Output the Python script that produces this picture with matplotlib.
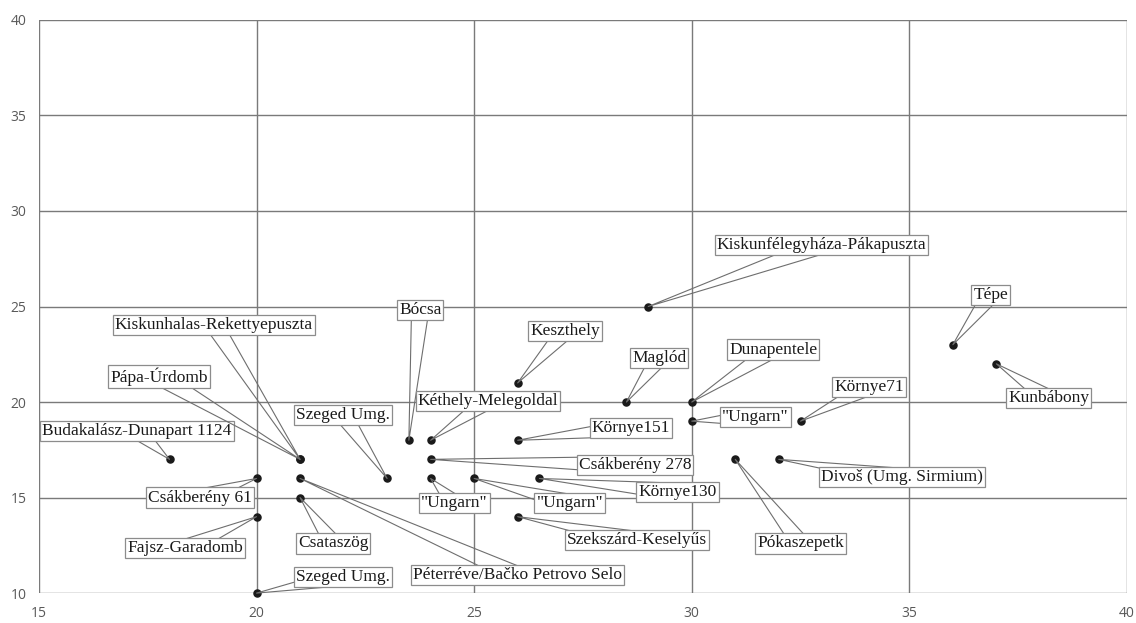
import matplotlib.pyplot as plt

# site coordinates
names = ['Budakalász-Dunapart 1124', 'Csákberény 61', 'Fajsz-Garadomb', 'Szeged Umg.',
         'Kiskunhalas-Rekettyepuszta', 'Pápa-Úrdomb', 'Szeged Umg.', 'Csataszög',
         'Péterréve/Bačko Petrovo Selo', 'Bócsa', 'Kéthely-Melegoldal', 'Csákberény 278',
         '"Ungarn"', '"Ungarn"', 'Keszthely', 'Környe151', 'Környe130', 'Szekszárd-Keselyűs',
         'Maglód', 'Kiskunfélegyháza-Pákapuszta', 'Dunapentele', '"Ungarn"', 'Pókaszepetk',
         'Divoš (Umg. Sirmium)', 'Környe71', 'Tépe', 'Kunbábony']
xs = [18, 20, 20, 20, 21, 21, 23, 21, 21, 23.5, 24, 24, 24, 25, 26, 26, 26.5, 26,
      28.5, 29, 30, 30, 31, 32, 32.5, 36, 37]
ys = [17, 16, 14, 10, 17, 17, 16, 15, 16, 18, 18, 17, 16, 16, 21, 18, 16, 14,
      20, 25, 20, 19, 17, 17, 19, 23, 22]

# where each callout box sits
lab_x = [17.25, 18.7, 18.36, 21.99, 19.02, 17.76, 21.99, 21.76, 26.0, 23.76, 25.32, 28.7,
         24.54, 27.2, 27.09, 28.6, 29.67, 28.75, 29.25, 32.98, 31.87, 31.46, 32.5,
         34.84, 34.08, 36.87, 38.2]
lab_y = [18.5, 15.0, 12.36, 10.84, 24.05, 21.33, 19.33, 12.6, 10.94, 24.8, 20.07, 16.7,
         14.72, 14.72, 23.7, 18.65, 15.3, 12.78, 22.3, 28.2, 22.75, 19.2, 12.6,
         16.08, 20.8, 25.6, 20.2]

fig = plt.figure(figsize=(11.36, 6.23), dpi=100)
ax = fig.add_axes([0.0343, 0.048, 0.9577, 0.92])

ax.set_xlim(15, 40)
ax.set_ylim(10, 40)
ax.set_xticks(range(15, 41, 5))
ax.set_yticks(range(10, 41, 5))
ax.grid(True, color='#7a7a7a', lw=1)
ax.set_axisbelow(True)
for s in ax.spines.values():
    s.set_visible(False)
ax.tick_params(length=0, labelsize=10, labelcolor='#595959', pad=9)
for t in ax.get_xticklabels() + ax.get_yticklabels():
    t.set_fontfamily('Open Sans')

ax.scatter(xs, ys, s=26, color='#1a1a1a', zorder=4, clip_on=False)

# callout boxes; the wedge starts at the box centre and is hidden under the box
for n, x, y, tx, ty in zip(names, xs, ys, lab_x, lab_y):
    ax.annotate(n, xy=(x, y), xytext=(tx, ty), ha='center', va='center',
                fontsize=12.5, family='Liberation Serif', color='#1a1a1a',
                bbox=dict(boxstyle='square,pad=0.12', fc='white', ec='#8c8c8c', lw=0.9),
                arrowprops=dict(arrowstyle='wedge,tail_width=1.0,shrink_factor=0.5',
                                fc='none', ec='#6e6e6e', lw=0.8, patchA=None,
                                shrinkA=0, shrinkB=0),
                zorder=5, annotation_clip=False)

fig.savefig('out.png', dpi=100)
